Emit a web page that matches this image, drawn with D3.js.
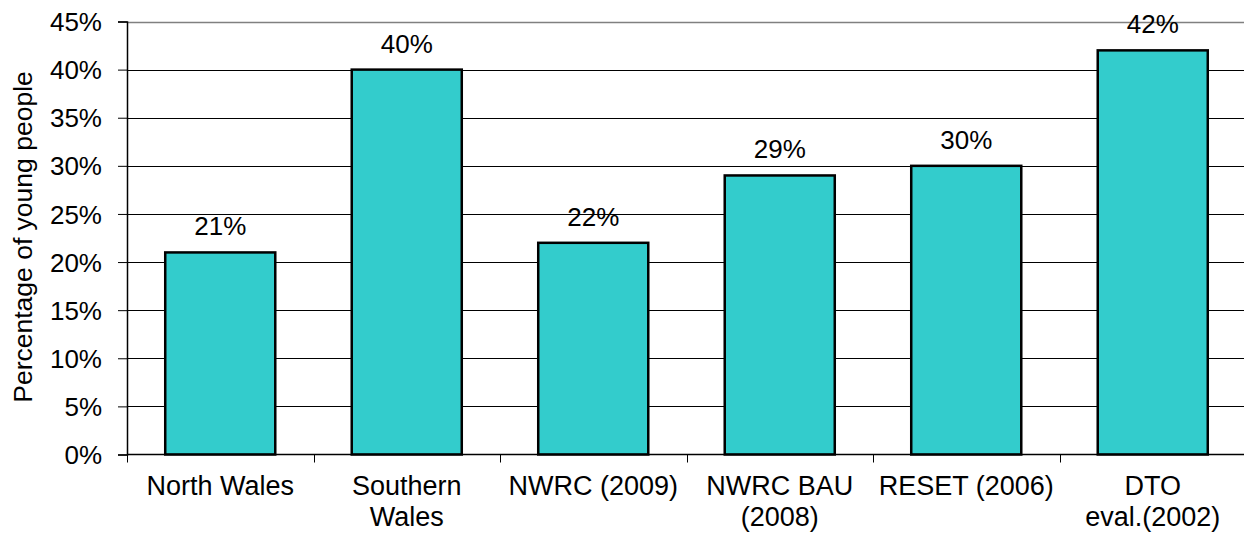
<!DOCTYPE html>
<html><head><meta charset="utf-8">
<script src="https://cdn.jsdelivr.net/npm/d3@7"></script>
<style>body{margin:0;background:#fff}svg{display:block}text{font-family:"Liberation Sans",Arial,sans-serif;fill:#000}</style>
</head><body><svg id="c" width="1244" height="534"></svg>
<script>
const categories = [["North Wales"],["Southern","Wales"],["NWRC (2009)"],["NWRC BAU","(2008)"],["RESET (2006)"],["DTO","eval.(2002)"]];
const values = [0.21,0.40,0.22,0.29,0.30,0.42];
const yTicks = [0,0.05,0.10,0.15,0.20,0.25,0.30,0.35,0.40,0.45];
const yTitle = "Percentage of young people";

const FS = 26;
const svg = d3.select("#c");
const L=127, R=1246, T=21.5, B=454.5;
const x = d3.scaleBand().domain(d3.range(categories.length)).range([L,R]).paddingInner(0.41).paddingOuter(0.205);
const y = d3.scaleLinear().domain([0,0.45]).range([B,T]);

// gridlines
svg.append("g").selectAll("line").data(yTicks.slice(1)).join("line")
  .attr("x1",L).attr("x2",R).attr("y1",d=>Math.round(y(d))+0.5).attr("y2",d=>Math.round(y(d))+0.5)
  .attr("stroke",(d,i)=>i===yTicks.length-2?"#808080":"#000").attr("stroke-width",(d,i)=>i===yTicks.length-2?1.5:1);

// bars
svg.append("g").selectAll("rect").data(values).join("rect")
  .attr("x",(d,i)=>x(i)).attr("width",x.bandwidth())
  .attr("y",d=>y(d)).attr("height",d=>B-y(d))
  .attr("fill","#33CCCC").attr("stroke","#000").attr("stroke-width",2.5);

// value labels
svg.append("g").selectAll("text").data(values).join("text")
  .attr("x",(d,i)=>x(i)+x.bandwidth()/2).attr("y",d=>y(d)-17)
  .attr("text-anchor","middle").attr("font-size",FS)
  .text(d=>d3.format(".0%")(d));

// y axis
const ya = svg.append("g").attr("transform",`translate(${L},0)`)
  .call(d3.axisLeft(y).tickValues(yTicks).tickFormat(d3.format(".0%")).tickSize(9).tickPadding(16));
ya.select(".domain").attr("stroke","#000").attr("stroke-width",1.5);
ya.selectAll(".tick line").attr("stroke","#000");
ya.selectAll("text").attr("font-size",FS).attr("font-family","Liberation Sans, Arial, sans-serif").attr("fill","#000").attr("dy","0.35em");

// x axis
const xa = svg.append("g").attr("transform",`translate(0,${B})`);
xa.append("line").attr("x1",L).attr("x2",R).attr("stroke","#000").attr("stroke-width",1.5);
const bounds = d3.range(categories.length+1).map(i=>L+i*x.step());
xa.selectAll(".tk").data(bounds).join("line").attr("class","tk")
  .attr("x1",d=>Math.round(d)+0.5).attr("x2",d=>Math.round(d)+0.5).attr("y1",0).attr("y2",8).attr("stroke","#000");
const lbl = xa.selectAll(".lb").data(categories).join("text").attr("class","lb")
  .attr("text-anchor","middle").attr("font-size",27)
  .attr("transform",(d,i)=>`translate(${x(i)+x.bandwidth()/2},0)`);
lbl.selectAll("tspan").data(d=>d).join("tspan").attr("x",0).attr("y",(d,i)=>40+i*31).text(d=>d);

// y title
svg.append("text").attr("transform","translate(32,237) rotate(-90)").attr("text-anchor","middle")
  .attr("font-size",26.5).text(yTitle);
</script></body></html>
